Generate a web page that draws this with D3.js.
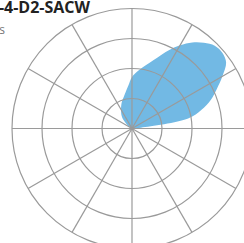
<!DOCTYPE html>
<html>
<head>
<meta charset="utf-8">
<script src="https://cdn.jsdelivr.net/npm/d3@7"></script>
<style>
  body { margin: 0; background: #fff; }
  svg { display: block; }
</style>
</head>
<body>
<div id="chart"></div>
<script>
// compass directions (degrees) and the lobe radius
var directions = [-45, -40, -35, -30, -25, -20, -15, -10, -5, 0, 5, 10, 15, 20, 25, 30, 35, 40,
                  45, 50, 55, 60, 65, 70, 75, 80, 85, 90];
var values = [0.40, 0.53, 0.63, 0.73, 0.85, 0.97, 1.08, 1.23, 1.43, 1.72, 1.90, 2.07, 2.27, 2.53,
              2.87, 3.20, 3.50, 3.73, 3.90, 3.93, 3.83, 3.48, 3.12, 2.80, 2.40, 1.90, 0.30, 0];
var ringTicks = [1, 2, 3, 4];
var spokeAngles = d3.range(0, 360, 30);
var titleText = "-4-D2-SACW";
var subtitleText = "s";

var width = 244, height = 243;
var cx = 132, cy = 128.5;

var svg = d3.select("#chart")
  .append("svg")
  .attr("width", width)
  .attr("height", height);

var r = d3.scaleLinear()
  .domain([0, 4])
  .range([0, 120]);

var g = svg.append("g")
  .attr("transform", "translate(" + cx + "," + cy + ")");

var data = directions.map(function(d, i) { return {angle: d, value: values[i]}; });

var line = d3.lineRadial()
  .angle(function(d) { return d.angle * Math.PI / 180; })
  .radius(function(d) { return r(d.value); })
  .curve(d3.curveCatmullRomClosed.alpha(0.5));

g.append("path")
  .datum(data)
  .attr("d", line)
  .style("fill", "#72b9e4")
  .style("stroke", "none");

// grid on top of the area
g.selectAll(".ring")
  .data(ringTicks)
  .enter()
  .append("circle")
  .attr("r", function(d) { return r(d); })
  .style("fill", "none")
  .style("stroke", "#9a9a9a")
  .style("stroke-width", 1.2);

g.selectAll(".spoke")
  .data(spokeAngles)
  .enter()
  .append("line")
  .attr("x1", 0)
  .attr("y1", 0)
  .attr("x2", function(d) { return r(4) * Math.sin(d * Math.PI / 180); })
  .attr("y2", function(d) { return -r(4) * Math.cos(d * Math.PI / 180); })
  .style("stroke", "#9a9a9a")
  .style("stroke-width", 1.2);

svg.append("text")
  .attr("x", 90)
  .attr("y", 12.5)
  .style("text-anchor", "end")
  .style("font-size", "16px")
  .style("font-weight", "700")
  .style("font-family", "'Open Sans', sans-serif")
  .style("fill", "#222")
  .text(titleText);

svg.append("text")
  .attr("x", 5)
  .attr("y", 34)
  .style("text-anchor", "end")
  .style("font-size", "12px")
  .style("font-family", "'Open Sans', sans-serif")
  .style("fill", "#777")
  .text(subtitleText);
</script>
</body>
</html>
